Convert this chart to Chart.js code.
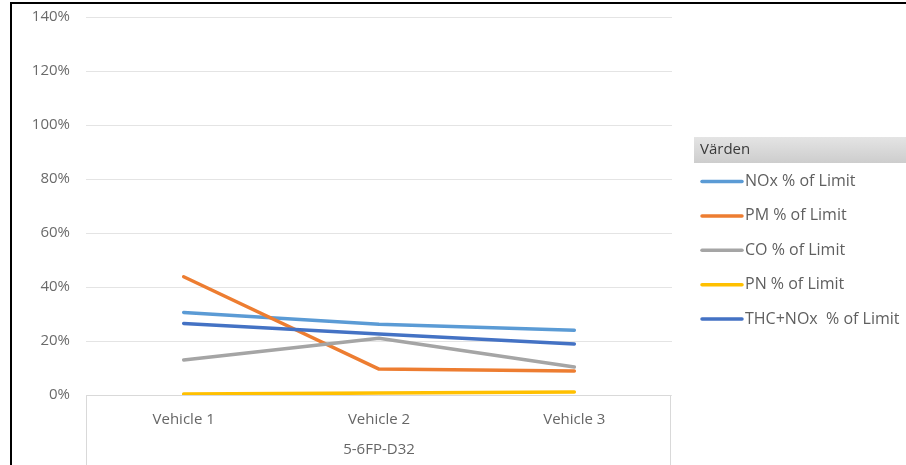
<!DOCTYPE html>
<html>
<head>
<meta charset="utf-8">
<script src="https://cdn.jsdelivr.net/npm/chart.js@4.4.1/dist/chart.umd.min.js"></script>
<style>
  html, body { margin: 0; padding: 0; background: #fff; }
  #wrap { width: 906px; height: 465px; position: relative; }
</style>
</head>
<body>
<div id="wrap"><canvas id="chart"></canvas></div>
<script>
// Kategorier och serier (procent av gränsvärde)
const vehicles = ["Vehicle 1", "Vehicle 2", "Vehicle 3"];
const groupLabel = "5-6FP-D32";
const legendTitle = "Värden";

const seriesNames = ["NOx % of Limit", "PM % of Limit", "CO % of Limit", "PN % of Limit", "THC+NOx  % of Limit"];
const seriesColors = ["#5B9BD5", "#ED7D31", "#A5A5A5", "#FFC000", "#4472C4"];

const noxData = [30.6, 26.2, 24.0];
const pmData = [43.8, 9.6, 8.9];
const coData = [13.0, 21.0, 10.4];
const pnData = [0.4, 0.7, 1.1];
const thcNoxData = [26.5, 22.6, 18.9];

const yTicks = [0, 20, 40, 60, 80, 100, 120, 140];

Chart.defaults.font.family = "'Open Sans', sans-serif";
Chart.defaults.font.size = 15;
Chart.defaults.color = "#6a6a6a";

const allData = [noxData, pmData, coData, pnData, thcNoxData];

const datasets = allData.map((data, i) => ({
  label: seriesNames[i],
  data,
  borderColor: seriesColors[i],
  backgroundColor: seriesColors[i],
  borderWidth: 3.5,
  borderCapStyle: "round",
  borderJoinStyle: "round",
  pointRadius: 0,
  tension: 0,
  // senare serier ritas överst, som i Excel
  order: allData.length - i
}));

// Ram, axelruta och legend ritas för hand
const decorations = {
  id: "decorations",
  afterDraw(chart) {
    const { ctx, chartArea } = chart;
    const h = chart.height;
    ctx.save();

    // ruta runt kategoriaxeln
    ctx.strokeStyle = "#d9d9d9";
    ctx.lineWidth = 1;
    ctx.beginPath();
    ctx.moveTo(chartArea.left + 0.5, h);
    ctx.lineTo(chartArea.left + 0.5, chartArea.bottom + 0.5);
    ctx.lineTo(chartArea.right - 1.5, chartArea.bottom + 0.5);
    ctx.lineTo(chartArea.right - 1.5, h);
    ctx.stroke();

    // svart ram (vänster + topp)
    ctx.strokeStyle = "#000";
    ctx.lineWidth = 2;
    ctx.beginPath();
    ctx.moveTo(11, h);
    ctx.lineTo(11, 3);
    ctx.lineTo(chart.width, 3);
    ctx.stroke();

    // legend
    const lx = 694;
    const grad = ctx.createLinearGradient(0, 137, 0, 163);
    grad.addColorStop(0, "#e4e4e4");
    grad.addColorStop(1, "#cdcdcd");
    ctx.fillStyle = grad;
    ctx.fillRect(lx, 137, chart.width - lx, 26);
    ctx.fillStyle = "#3a3a3a";
    ctx.font = "15px 'Open Sans', sans-serif";
    ctx.textBaseline = "middle";
    ctx.fillText(legendTitle, 700, 150);

    ctx.font = "16px 'Open Sans', sans-serif";
    chart.data.datasets.forEach((ds, i) => {
      const y = 181.5 + i * 34.4;
      ctx.strokeStyle = ds.borderColor;
      ctx.lineWidth = 3.5;
      ctx.lineCap = "round";
      ctx.beginPath();
      ctx.moveTo(702, y);
      ctx.lineTo(742, y);
      ctx.stroke();
      ctx.fillStyle = "#5f5f5f";
      ctx.fillText(ds.label, 745, y);
    });

    ctx.restore();
  }
};

new Chart(document.getElementById("chart"), {
  type: "line",
  data: { labels: vehicles, datasets },
  options: {
    responsive: true,
    maintainAspectRatio: false,
    animation: false,
    layout: { padding: { left: 10, right: 234, top: 17, bottom: 0 } },
    plugins: {
      legend: { display: false },
      tooltip: { enabled: false }
    },
    scales: {
      x: {
        offset: true,
        grid: { display: false, drawTicks: false },
        border: { display: false },
        ticks: { padding: 16, color: "#666" },
        title: { display: true, text: groupLabel, color: "#666", padding: { top: 6, bottom: 6 } },
        afterFit(scale) { scale.height = 70; }
      },
      y: {
        min: 0,
        max: 140,
        afterBuildTicks(scale) { scale.ticks = yTicks.map(v => ({ value: v })); },
        // osynliga tickstreck ger avståndet mellan etikett och rutnät
        grid: { color: "#e4e4e4", drawTicks: true, tickLength: 16, tickColor: "rgba(0,0,0,0)", lineWidth: 1 },
        border: { display: false },
        ticks: { padding: 0, color: "#6a6a6a", callback: v => v + "%" },
        afterFit(scale) { scale.width = 76; }
      }
    }
  },
  plugins: [decorations]
});
</script>
</body>
</html>
